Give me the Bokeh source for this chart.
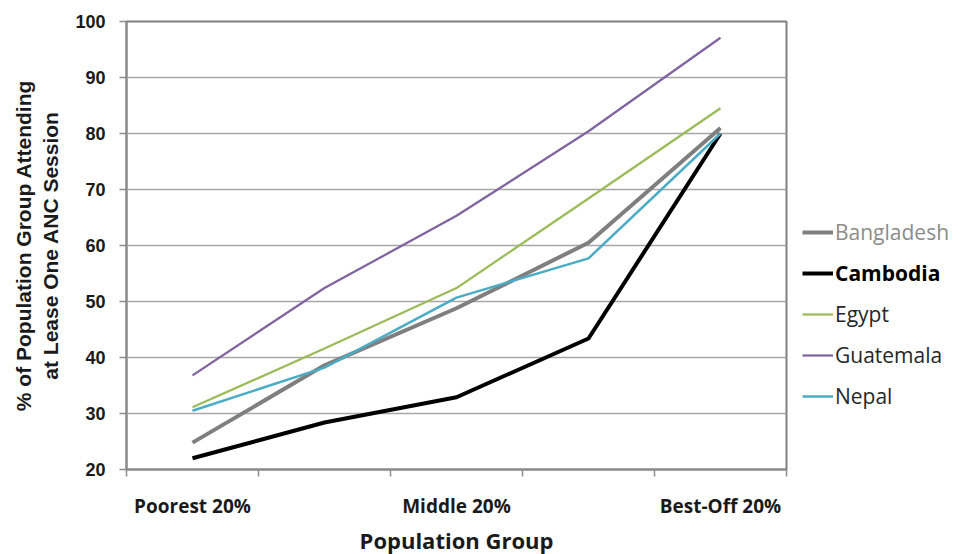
from bokeh.plotting import figure
from bokeh.layouts import row
from bokeh.models import FixedTicker, Legend, LegendItem, Range1d
from bokeh.embed import file_html
from bokeh.resources import INLINE

groups = ["Poorest 20%", "Second 20%", "Middle 20%", "Fourth 20%", "Best-Off 20%"]
tick_labels = ["Poorest 20%", "", "Middle 20%", "", "Best-Off 20%"]

bangladesh = [24.8, 38.6, 48.8, 60.5, 81.0]
cambodia = [22.0, 28.4, 32.9, 43.4, 80.0]
egypt = [31.1, 41.6, 52.4, 68.4, 84.5]
guatemala = [36.8, 52.4, 65.3, 80.4, 97.1]
nepal = [30.5, 38.2, 50.7, 57.7, 80.0]

series = [
    ("Bangladesh", bangladesh, "#7F7F7F", 4.0, "#8C8C8C", "normal"),
    ("Cambodia", cambodia, "#000000", 4.0, "#000000", "bold"),
    ("Egypt", egypt, "#9BBB59", 2.25, "#262626", "normal"),
    ("Guatemala", guatemala, "#8064A2", 2.25, "#262626", "normal"),
    ("Nepal", nepal, "#4BACC6", 2.5, "#262626", "normal"),
]

xs = [i + 0.5 for i in range(len(groups))]

p = figure(frame_width=660, frame_height=448, output_backend="svg", toolbar_location=None,
           x_range=Range1d(0, len(groups)), y_range=Range1d(20, 100),
           min_border_left=126, min_border_right=4, min_border_top=21,
           min_border_bottom=69)
p.background_fill_color = "white"
p.border_fill_color = "white"
p.outline_line_color = "#7F7F7F"
p.outline_line_width = 2

p.xgrid.grid_line_color = None
p.ygrid.grid_line_color = "#A6A6A6"
p.ygrid.grid_line_width = 1.5
p.ygrid.ticker = FixedTicker(ticks=list(range(20, 101, 10)))

p.yaxis.ticker = FixedTicker(ticks=list(range(20, 101, 10)))
p.yaxis.axis_line_color = "#8C8C8C"
p.yaxis.axis_line_width = 2
p.yaxis.major_tick_line_color = "#8C8C8C"
p.yaxis.major_tick_line_width = 1.5
p.yaxis.major_tick_in = 0
p.yaxis.major_tick_out = 7
p.yaxis.minor_tick_line_color = None
p.yaxis.major_label_text_font = "Liberation Sans"
p.yaxis.major_label_text_font_style = "bold"
p.yaxis.major_label_text_font_size = "18px"
p.yaxis.major_label_text_color = "#1A1A1A"
p.yaxis.major_label_standoff = 14
p.yaxis.axis_label = "% of Population Group Attending\nat Lease One ANC Session"
p.yaxis.axis_label_text_font = "Liberation Sans"
p.yaxis.axis_label_text_font_style = "bold"
p.yaxis.axis_label_text_font_size = "21px"
p.yaxis.axis_label_text_color = "#1A1A1A"
p.yaxis.axis_label_standoff = 10

p.xaxis.ticker = FixedTicker(ticks=xs, minor_ticks=list(range(len(groups) + 1)))
p.xaxis.major_label_overrides = {x: lab for x, lab in zip(xs, tick_labels)}
p.xaxis.major_tick_line_color = None
p.xaxis.minor_tick_line_color = "#8C8C8C"
p.xaxis.minor_tick_line_width = 1.5
p.xaxis.minor_tick_in = 0
p.xaxis.minor_tick_out = 7
p.xaxis.axis_line_color = "#8C8C8C"
p.xaxis.axis_line_width = 2
p.xaxis.major_label_text_font = "Open Sans"
p.xaxis.major_label_text_font_style = "bold"
p.xaxis.major_label_text_font_size = "19px"
p.xaxis.major_label_text_color = "#1A1A1A"
p.xaxis.major_label_standoff = 16
p.xaxis.axis_label = "Population Group"
p.xaxis.axis_label_text_font = "Open Sans"
p.xaxis.axis_label_text_font_style = "bold"
p.xaxis.axis_label_text_font_size = "22px"
p.xaxis.axis_label_text_color = "#1A1A1A"
p.xaxis.axis_label_standoff = 3

# Legend panel
p2 = figure(width=161, height=538, output_backend="svg", toolbar_location=None,
            x_range=Range1d(1000, 1001), y_range=Range1d(1000, 1001),
            x_axis_location=None, y_axis_location=None,
            min_border_left=0, min_border_right=0, min_border_top=0, min_border_bottom=0)
p2.outline_line_color = None
p2.xgrid.grid_line_color = None
p2.ygrid.grid_line_color = None

for i, (name, vals, color, lw, tcolor, tstyle) in enumerate(series):
    p.line(xs, vals, line_color=color, line_width=lw, line_join="round")
    r2 = p2.line(xs, vals, line_color=color, line_width=lw)
    leg = Legend(items=[LegendItem(label=name, renderers=[r2])],
                 location=(12, 204 - i * 41),
                 glyph_width=31, glyph_height=20, label_height=20,
                 label_standoff=2, padding=0, margin=0, spacing=0,
                 border_line_color=None, background_fill_alpha=0,
                 label_text_font="Open Sans", label_text_font_size="21px",
                 label_text_color=tcolor, label_text_font_style=tstyle)
    p2.add_layout(leg)

layout = row(p, p2)
open("out.html", "w").write(file_html(layout, INLINE))
